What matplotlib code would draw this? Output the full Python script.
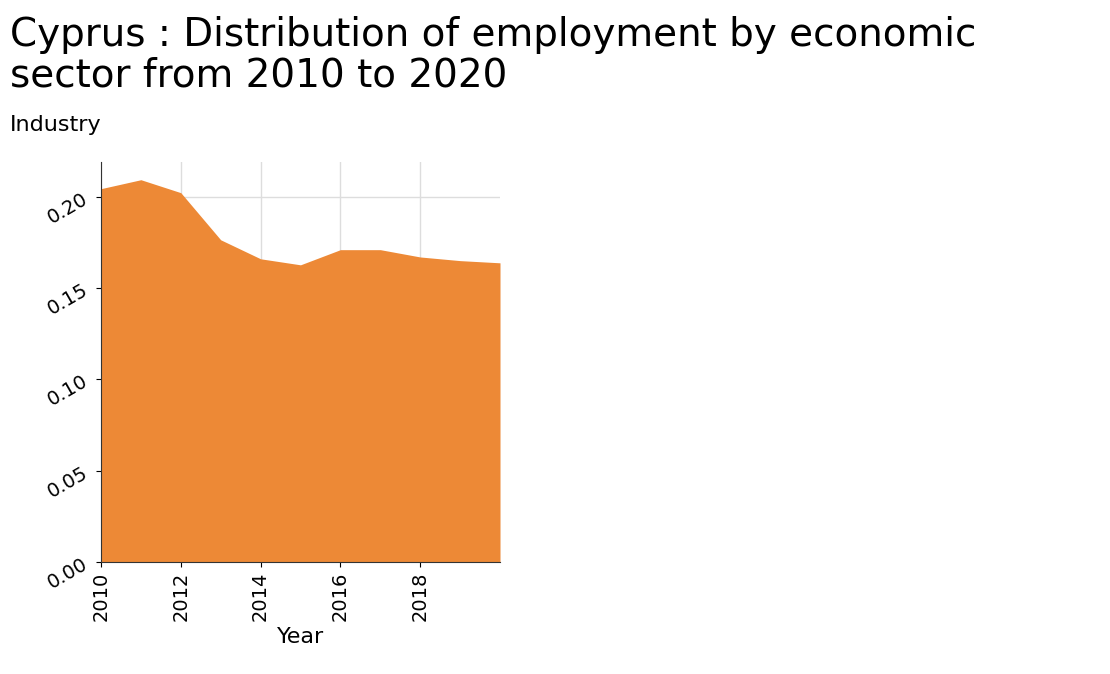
import matplotlib.pyplot as plt

years = [2010, 2011, 2012, 2013, 2014, 2015, 2016, 2017, 2018, 2019, 2020]
industry = [0.2044, 0.2093, 0.2022, 0.1764, 0.166, 0.1627, 0.171, 0.171, 0.167, 0.165, 0.1638]

fig = plt.figure(figsize=(11.1, 6.74), dpi=100)
ax = fig.add_axes([101 / 1110, 112 / 674, 399 / 1110, 400 / 674])

ax.fill_between(years, industry, 0, color="#ed8936", linewidth=0, zorder=2)
ax.set_xlim(2010, 2020)
ax.set_ylim(0, 0.219)
ax.set_xticks([2010, 2012, 2014, 2016, 2018])
ax.set_yticks([0.0, 0.05, 0.10, 0.15, 0.20])
ax.set_yticklabels(["0.00", "0.05", "0.10", "0.15", "0.20"])
ax.grid(True, color="#dddddd", linewidth=1, zorder=0)
ax.set_axisbelow(True)
for s in ["top", "right"]:
    ax.spines[s].set_visible(False)
for s in ["left", "bottom"]:
    ax.spines[s].set_color("#333333")
ax.tick_params(axis="x", labelrotation=90, labelsize=14)
ax.tick_params(axis="y", labelrotation=30, labelsize=14)
ax.set_xlabel("Year", fontsize=16)

fig.text(10 / 1110, 1 - 55 / 674, "Cyprus : Distribution of employment by economic\nsector from 2010 to 2020",
         fontsize=28, va="center", ha="left", linespacing=1.1)
fig.text(10 / 1110, 1 - 125 / 674, "Industry", fontsize=16, va="center", ha="left")

fig.savefig("out.png", dpi=100)
